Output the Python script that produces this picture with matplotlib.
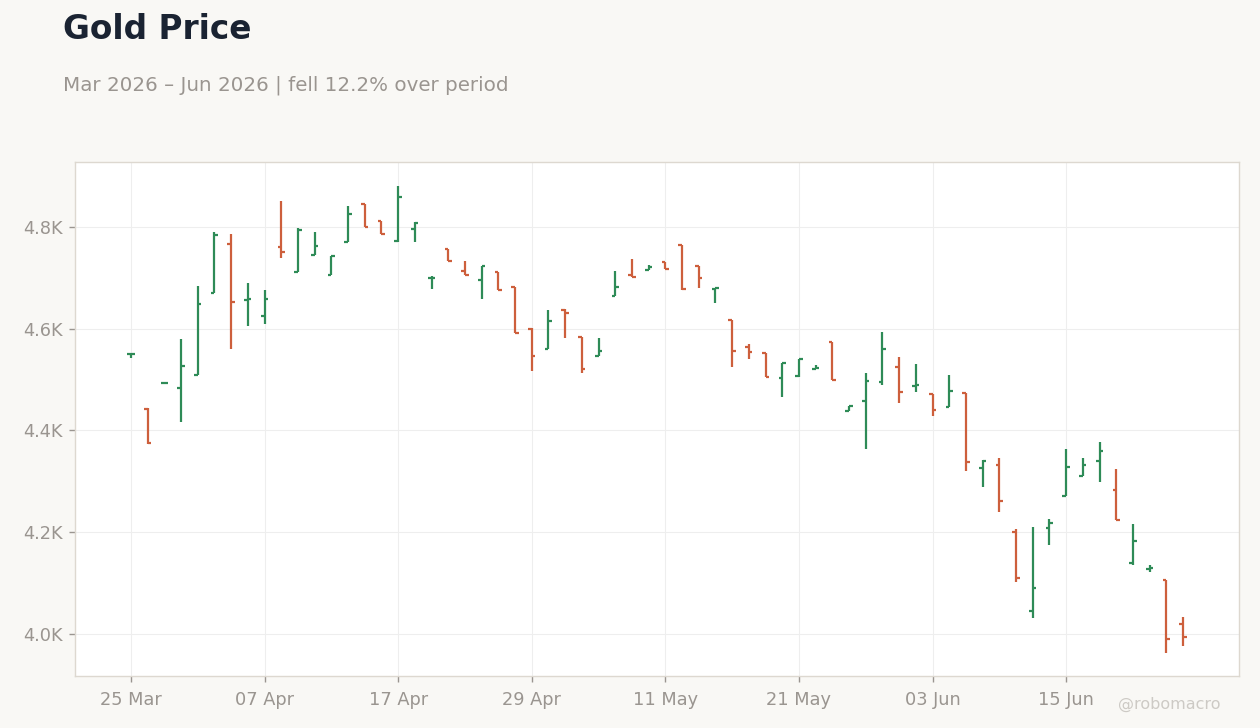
import numpy as np
import pandas as pd
import matplotlib
matplotlib.use("Agg")
import matplotlib.pyplot as plt
from matplotlib.ticker import FuncFormatter

# US trading days from 25 Mar 2026 (Good Friday, Memorial Day, Juneteenth closed)
holidays = ["2026-04-03", "2026-05-25", "2026-06-19"]
dates = pd.bdate_range("2026-03-25", periods=64, freq="C", holidays=holidays)

opens = [4550, 4443, 4493, 4483, 4510, 4670, 4767, 4656, 4625, 4761,
         4711, 4746, 4706, 4771, 4845, 4812, 4773, 4796, 4699, 4756,
         4714, 4696, 4711, 4683, 4600, 4561, 4637, 4583, 4547, 4664,
         4706, 4715, 4732, 4764, 4723, 4679, 4617, 4564, 4552, 4503,
         4508, 4520, 4574, 4439, 4457, 4495, 4524, 4488, 4472, 4447,
         4474, 4327, 4333, 4201, 4044, 4209, 4272, 4311, 4340, 4282,
         4140, 4128, 4105, 4020]
highs = [4552, 4444, 4494, 4579, 4685, 4790, 4786, 4689, 4677, 4852,
         4799, 4791, 4744, 4842, 4846, 4812, 4880, 4810, 4704, 4756,
         4733, 4723, 4711, 4683, 4602, 4636, 4638, 4583, 4581, 4713,
         4737, 4725, 4732, 4765, 4724, 4681, 4618, 4570, 4553, 4532,
         4540, 4529, 4574, 4449, 4512, 4593, 4545, 4530, 4472, 4510,
         4474, 4341, 4345, 4206, 4210, 4226, 4363, 4345, 4377, 4324,
         4216, 4135, 4106, 4033]
lows = [4542, 4373, 4492, 4416, 4510, 4670, 4561, 4605, 4609, 4740,
        4711, 4746, 4706, 4771, 4801, 4786, 4770, 4771, 4679, 4733,
        4706, 4658, 4676, 4591, 4517, 4561, 4582, 4513, 4547, 4664,
        4701, 4715, 4718, 4677, 4681, 4651, 4525, 4541, 4506, 4466,
        4505, 4520, 4500, 4439, 4363, 4489, 4453, 4475, 4429, 4447,
        4320, 4288, 4239, 4102, 4032, 4174, 4271, 4311, 4298, 4224,
        4136, 4121, 3963, 3976]
closes = [4551, 4376, 4494, 4527, 4648, 4785, 4652, 4658, 4658, 4751,
          4794, 4763, 4744, 4826, 4801, 4786, 4859, 4808, 4700, 4733,
          4706, 4723, 4676, 4591, 4546, 4615, 4631, 4520, 4556, 4682,
          4701, 4721, 4718, 4679, 4700, 4680, 4556, 4554, 4506, 4532,
          4540, 4523, 4500, 4448, 4498, 4561, 4475, 4490, 4441, 4478,
          4338, 4339, 4261, 4109, 4091, 4217, 4329, 4333, 4360, 4224,
          4183, 4130, 3990, 3994]

tick_idx = [0, 8, 16, 24, 32, 40, 48, 56]

GREEN = "#2e8b57"
RED = "#cd5f3c"
BG = "#f9f8f5"
GREY = "#9a9590"

fig = plt.figure(figsize=(12.6, 7.28), dpi=100, facecolor=BG)
ax = fig.add_axes([0.0595, 0.0714, 0.9238, 0.7061])
ax.set_facecolor("white")

x = np.arange(len(dates))
o, h, l, c = map(np.array, (opens, highs, lows, closes))
colors = [GREEN if cc >= oo else RED for oo, cc in zip(o, c)]

w = 0.22
ax.vlines(x, l, h, colors=colors, linewidth=1.6, zorder=3)
ax.hlines(o, x - w, x, colors=colors, linewidth=1.6, zorder=3)
ax.hlines(c, x, x + w, colors=colors, linewidth=1.6, zorder=3)

ax.set_xlim(-3.35, len(dates) - 1 + 3.35)
ax.set_ylim(3917, 4928)
ax.set_yticks([4000, 4200, 4400, 4600, 4800])
ax.yaxis.set_major_formatter(FuncFormatter(lambda v, p: f"{v / 1000:.1f}K"))
ax.set_xticks(tick_idx)
ax.set_xticklabels([dates[i].strftime("%d %b") for i in tick_idx])

ax.grid(True, color="#eeeeee", linewidth=0.8, zorder=0)
for s in ax.spines.values():
    s.set_color("#ddd8d0")
    s.set_linewidth(1.0)
ax.tick_params(colors=GREY, labelsize=12.8, length=4, width=1, pad=5)
ax.tick_params(axis="x", pad=7)

fig.text(0.05, 0.96, "Gold Price", fontsize=23.6, fontweight="bold",
         color="#1a2332", ha="left", va="center")
fig.text(0.05, 0.883, "Mar 2026 \u2013 Jun 2026 | fell 12.2% over period",
         fontsize=14.3, color=GREY, ha="left", va="center")
fig.text(0.928, 0.032, "@robomacro", fontsize=11.5, color="#cdcac5",
         ha="center", va="center")

fig.savefig("out.png", dpi=100, facecolor=BG)
